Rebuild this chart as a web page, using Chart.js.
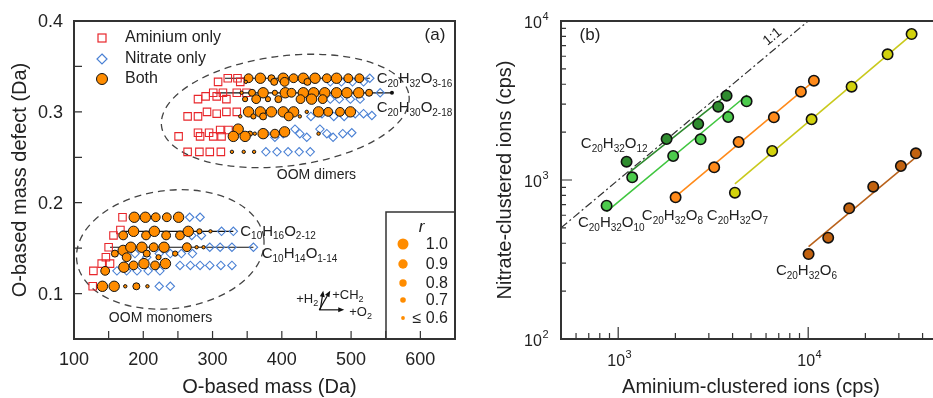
<!DOCTYPE html>
<html lang="en">
<head>
  <meta charset="UTF-8">
  <title>OOM mass defect / clustered ions</title>
  <script src="https://cdn.jsdelivr.net/npm/chart.js"></script>
  <style>
    html, body { margin: 0; padding: 0; background: #fff; overflow: hidden; }
    #wrap { position: relative; width: 933px; height: 398px; overflow: hidden; }
    canvas { position: absolute; top: 0; }
    #chartA { left: 0; }
    #chartB { left: 470px; }
  </style>
</head>
<body>
<div id="wrap">
  <canvas id="chartA" width="470" height="398"></canvas>
  <canvas id="chartB" width="480" height="398"></canvas>
</div>
<script>
// ---------- panel (a): O-based mass defect plot ----------
const aminiumMass   = [308, 322, 336, 340,  301, 315, 335, 349,  279, 290, 306, 320,  264, 279, 292, 306, 320, 335,
                       279, 295, 311, 323,  251, 282, 301, 313,  264, 281, 296, 312,
                       170, 167, 157, 150, 146, 152, 140, 128, 127];
const aminiumDefect = [0.333, 0.337, 0.337, 0.333,  0.321, 0.321, 0.321, 0.321,  0.314, 0.317, 0.317, 0.314,
                       0.295, 0.295, 0.300, 0.298, 0.300, 0.300,  0.277, 0.277, 0.280, 0.280,
                       0.273, 0.273, 0.273, 0.273,  0.256, 0.256, 0.256, 0.256,
                       0.184, 0.170, 0.164, 0.151, 0.140, 0.133, 0.133, 0.125, 0.108];

const nitrateMass   = [527,  470, 486, 502, 518,  542,  470, 483, 499, 513,
                       442, 458, 475, 490, 506, 518, 530,
                       377, 390, 402, 419, 426, 436, 455, 465, 474, 488, 501,
                       377, 393, 409, 425, 441,
                       267, 282,  270, 284, 313, 330,
                       188, 205, 223, 239, 255, 271, 296, 311, 328, 359,
                       162, 176, 191, 207, 224, 253, 268, 282, 296, 312, 328,
                       223, 239];
const nitrateDefect = [0.337,  0.333, 0.333, 0.333, 0.333,  0.321,  0.314, 0.314, 0.314, 0.314,
                       0.295, 0.298, 0.295, 0.295, 0.298, 0.298, 0.296,
                       0.276, 0.272, 0.276, 0.281, 0.276, 0.272, 0.281, 0.276, 0.272, 0.276, 0.277,
                       0.256, 0.256, 0.256, 0.256, 0.256,
                       0.184, 0.184,  0.164, 0.164, 0.1685, 0.1685,
                       0.144, 0.140, 0.144, 0.144, 0.144, 0.144, 0.151, 0.151, 0.151, 0.151,
                       0.125, 0.125, 0.125, 0.125, 0.125, 0.131, 0.131, 0.131, 0.131, 0.131, 0.131,
                       0.108, 0.108];

const bothMass   = [352, 369, 385, 402, 417, 431, 448, 465, 479, 496, 512,
                    348, 389, 404, 437,
                    342, 357, 373, 390, 405, 414, 431, 446, 462, 479, 494, 511, 526,
                    347, 363, 380, 395, 427, 443, 459,
                    352, 369, 385, 402, 417, 436, 453, 467, 484, 499,
                    340, 359, 373, 410, 426,
                    337, 354, 373, 390, 404, 453, 330, 347, 361,
                    328, 345, 360,
                    187, 203, 218, 234, 251,
                    171, 186, 204, 216, 233, 253, 265, 281, 297,
                    159, 171, 182, 198, 215, 230, 246, 263, 277, 287,
                    176, 205, 222,
                    145, 172, 186, 201, 217, 232,
                    141, 158, 174, 190, 206];
const bothDefect = [0.337, 0.337, 0.337, 0.337, 0.337, 0.337, 0.337, 0.337, 0.337, 0.337, 0.337,
                    0.333, 0.333, 0.333, 0.333,
                    0.321, 0.321, 0.321, 0.321, 0.321, 0.321, 0.321, 0.321, 0.321, 0.321, 0.321, 0.321, 0.321,
                    0.314, 0.314, 0.314, 0.314, 0.314, 0.314, 0.314,
                    0.300, 0.300, 0.300, 0.300, 0.300, 0.300, 0.300, 0.300, 0.300, 0.300,
                    0.295, 0.295, 0.295, 0.295, 0.295,
                    0.281, 0.276, 0.276, 0.276, 0.278, 0.276, 0.273, 0.273, 0.276,
                    0.256, 0.256, 0.256,
                    0.184, 0.184, 0.184, 0.184, 0.184,
                    0.164, 0.1685, 0.164, 0.1685, 0.164, 0.164, 0.1685, 0.1685, 0.1685,
                    0.144, 0.1475, 0.151, 0.151, 0.151, 0.151, 0.144, 0.151, 0.151, 0.151,
                    0.140, 0.144, 0.140,
                    0.125, 0.129, 0.131, 0.133, 0.131, 0.133,
                    0.108, 0.108, 0.108, 0.108, 0.108];
const bothR      = [0.9, 1.0, 0.8, 1.0, 0.9, 1.0, 1.0, 0.9, 1.0, 0.9, 0.9,
                    0.6, 0.8, 0.9, 0.8,
                    0.6, 0.8, 1.0, 0.7, 1.0, 0.9, 1.0, 1.0, 1.0, 1.0, 1.0, 1.0, 0.8,
                    0.7, 0.9, 0.7, 0.8, 0.9, 1.0, 0.9,
                    1.0, 1.0, 1.0, 1.0, 1.0, 0.6, 1.0, 0.9, 0.9, 1.0,
                    0.6, 0.7, 0.8, 0.9, 0.6,
                    1.0, 0.7, 1.0, 0.9, 1.0, 0.6, 1.0, 1.0, 0.6,
                    0.6, 0.6, 0.6,
                    1.0, 1.0, 0.9, 0.9, 1.0,
                    0.9, 1.0, 0.9, 1.0, 0.9, 0.9, 1.0, 0.7, 0.6,
                    0.8, 1.0, 1.0, 1.0, 0.9, 1.0, 0.7, 0.9, 0.6, 0.6,
                    0.9, 0.8, 0.7,
                    0.9, 1.0, 0.9, 1.0, 0.9, 1.0,
                    1.0, 1.0, 0.6, 0.8, 0.6];

// homologous series lines: [start mass, end mass], defect
const seriesNames  = ['C20H32O3-16', 'C20H30O2-18', 'C10H16O2-12', 'C10H14O1-14'];
const seriesStart  = [318, 304, 169, 152];
const seriesEnd    = [527, 559, 330, 359];
const seriesDefect = [0.337, 0.321, 0.1685, 0.151];

const xTicksA = [100, 200, 300, 400, 500, 600];
const yTicksA = [0.1, 0.2, 0.3, 0.4];
const rLegend = ['1.0', '0.9', '0.8', '0.7', '≤ 0.6'];

// ---------- panel (b): nitrate vs aminium clustered ions ----------
const ionNames = ['C20H32O12', 'C20H32O10', 'C20H32O8', 'C20H32O7', 'C20H32O6'];
const aminiumIons = [
  [1107, 1798, 2637, 3360, 3720],
  [869, 1185, 1947, 2715, 3793, 4741],
  [2005, 3201, 4303, 6598, 9153, 10715],
  [4114, 6463, 10421, 16922, 26173, 35010],
  [10048, 12743, 16435, 21989, 30745, 36878]
];
const nitrateIons = [
  [1304, 1811, 2250, 2891, 3390],
  [689, 1040, 1416, 1803, 2490, 3126],
  [778, 1202, 1734, 2480, 3593, 4212],
  [832, 1522, 2409, 3863, 6174, 8282],
  [342, 434, 664, 908, 1225, 1472]
];
const fitAminium = [[1129, 3720], [869, 4775], [2005, 10624], [4114, 35690], [10048, 37200]];
const fitNitrate = [[1102, 3424], [632, 3424], [785, 4151], [944, 8367], [381, 1401]];
const oneToOne = [500, 10000];
const ionFill = ['#2f8c2f', '#4ccb4c', '#ff8a1a', '#d2d20c', '#c2620f'];
const ionLine = ['#2e8a2e', '#3fc63f', '#ff8a1a', '#c9c91c', '#b9621b'];

const FONT = '"Liberation Sans", Arial, Helvetica, sans-serif';
const INK = '#222';

function rSize(r) {
  if (r >= 1.0) return 5.2;
  if (r >= 0.9) return 4.4;
  if (r >= 0.8) return 3.5;
  if (r >= 0.7) return 2.6;
  return 1.7;
}

// "C20H32O3-16" -> normal / subscript pieces
function parseFormula(s) {
  const parts = [];
  const re = /([^0-9\-]+)|([0-9\-]+)/g;
  let m;
  while ((m = re.exec(s))) parts.push([m[0], !!m[2]]);
  return parts;
}

function drawFormula(ctx, s, x, yMid, size, align) {
  const subSize = Math.round(size * 0.68);
  const parts = parseFormula(s);
  let w = 0;
  for (const [t, sub] of parts) {
    ctx.font = (sub ? subSize : size) + 'px ' + FONT;
    w += ctx.measureText(t).width;
  }
  let cx = align === 'center' ? x - w / 2 : align === 'right' ? x - w : x;
  const base = yMid + size * 0.36;
  ctx.textAlign = 'left';
  ctx.textBaseline = 'alphabetic';
  for (const [t, sub] of parts) {
    ctx.font = (sub ? subSize : size) + 'px ' + FONT;
    ctx.fillText(t, cx, sub ? base + size * 0.25 : base);
    cx += ctx.measureText(t).width;
  }
}

function drawPow(ctx, exp, x, yMid, align) {
  ctx.font = '16px ' + FONT;
  const wb = ctx.measureText('10').width;
  ctx.font = '11px ' + FONT;
  const we = ctx.measureText(String(exp)).width;
  const w = wb + we;
  const left = align === 'right' ? x - w : x - w / 2;
  ctx.textAlign = 'left';
  ctx.textBaseline = 'middle';
  ctx.font = '16px ' + FONT;
  ctx.fillText('10', left, yMid);
  ctx.font = '11px ' + FONT;
  ctx.fillText(String(exp), left + wb + 0.5, yMid - 7);
}

function text(ctx, s, x, y, size, align, style) {
  ctx.font = (style ? style + ' ' : '') + size + 'px ' + FONT;
  ctx.textAlign = align || 'left';
  ctx.textBaseline = 'middle';
  ctx.fillText(s, x, y);
}

function arrow(ctx, x0, y0, x1, y1) {
  const a = Math.atan2(y1 - y0, x1 - x0);
  ctx.beginPath();
  ctx.moveTo(x0, y0);
  ctx.lineTo(x1 - 4 * Math.cos(a), y1 - 4 * Math.sin(a));
  ctx.stroke();
  ctx.beginPath();
  ctx.moveTo(x1, y1);
  ctx.lineTo(x1 - 6 * Math.cos(a) + 2.5 * Math.sin(a), y1 - 6 * Math.sin(a) - 2.5 * Math.cos(a));
  ctx.lineTo(x1 - 6 * Math.cos(a) - 2.5 * Math.sin(a), y1 - 6 * Math.sin(a) + 2.5 * Math.cos(a));
  ctx.closePath();
  ctx.fill();
}

const toXY = (xs, ys) => xs.map((x, i) => ({ x: x, y: ys[i] }));

// ---------------- chart (a) ----------------
const decoA = {
  id: 'decoA',
  beforeDatasetsDraw(chart) {
    const ctx = chart.ctx, sx = chart.scales.x, sy = chart.scales.y;
    ctx.save();
    ctx.strokeStyle = '#444';
    ctx.lineWidth = 1.3;
    ctx.setLineDash([7, 5]);
    const ell = [[405, 0.301, 180, 0.0606], [239, 0.1486, 136, 0.065]];
    for (const [cm, cd, rm, rd] of ell) {
      const cx = sx.getPixelForValue(cm), cy = sy.getPixelForValue(cd);
      const rx = sx.getPixelForValue(cm + rm) - cx;
      const ry = cy - sy.getPixelForValue(cd + rd);
      ctx.beginPath();
      ctx.ellipse(cx, cy, rx, ry, -7 * Math.PI / 180, 0, 2 * Math.PI);
      ctx.stroke();
    }
    ctx.restore();
  },
  afterDraw(chart) {
    const ctx = chart.ctx, a = chart.chartArea, sx = chart.scales.x, sy = chart.scales.y;
    ctx.save();
    ctx.fillStyle = INK;
    ctx.strokeStyle = '#333';
    // ticks (inward)
    ctx.lineWidth = 1.2;
    ctx.beginPath();
    for (let v = 150; v <= 600; v += 50) {
      const x = sx.getPixelForValue(v);
      ctx.moveTo(x, a.bottom); ctx.lineTo(x, a.bottom - 8);
    }
    for (let k = 2; k <= 7; k++) {
      const y = sy.getPixelForValue(k * 0.05);
      ctx.moveTo(a.left, y); ctx.lineTo(a.left + 8, y);
    }
    ctx.stroke();
    // frame
    ctx.lineWidth = 2;
    ctx.strokeRect(a.left, a.top, a.right - a.left, a.bottom - a.top);
    // tick labels
    xTicksA.forEach(v => text(ctx, String(v), sx.getPixelForValue(v), 360, 18, 'center'));
    yTicksA.forEach(v => text(ctx, v.toFixed(1), 63, sy.getPixelForValue(v) + 1, 18, 'right'));
    // axis titles
    text(ctx, 'O-based mass (Da)', (a.left + a.right) / 2 + 5, 387, 20, 'center');
    ctx.save();
    ctx.translate(20, 180);
    ctx.rotate(-Math.PI / 2);
    text(ctx, 'O-based mass defect (Da)', 0, 0, 20, 'center');
    ctx.restore();
    // panel letter
    text(ctx, '(a)', 435, 35, 17, 'center');
    // symbol legend
    ctx.lineWidth = 1.2;
    ctx.strokeStyle = '#e8262b';
    ctx.strokeRect(98, 34, 8, 8);
    ctx.strokeStyle = '#4a80d4';
    ctx.beginPath();
    ctx.moveTo(102, 54); ctx.lineTo(107, 59); ctx.lineTo(102, 64); ctx.lineTo(97, 59); ctx.closePath();
    ctx.stroke();
    ctx.fillStyle = '#ff8c00';
    ctx.strokeStyle = '#111';
    ctx.lineWidth = 1;
    ctx.beginPath(); ctx.arc(102, 79, 5.5, 0, 2 * Math.PI); ctx.fill(); ctx.stroke();
    ctx.fillStyle = INK;
    text(ctx, 'Aminium only', 125, 38, 16);
    text(ctx, 'Nitrate only', 125, 59, 16);
    text(ctx, 'Both', 125, 79, 16);
    // r legend box
    ctx.strokeStyle = '#333';
    ctx.lineWidth = 1.5;
    ctx.beginPath();
    ctx.moveTo(386, a.bottom); ctx.lineTo(386, 212); ctx.lineTo(a.right, 212);
    ctx.stroke();
    text(ctx, 'r', 421.5, 227, 17, 'center', 'italic');
    const rr = [5.5, 4.7, 3.7, 2.8, 1.9];
    const ry = [244, 264, 283, 300, 318];
    rLegend.forEach((s, i) => {
      ctx.fillStyle = '#ff8c00';
      ctx.beginPath(); ctx.arc(403, ry[i], rr[i], 0, 2 * Math.PI); ctx.fill();
      ctx.fillStyle = INK;
      text(ctx, s, 448, ry[i] + 1, 16, 'right');
    });
    // series labels
    const lab = [[537, 0.3372], [537, 0.3055], [340, 0.1696], [371, 0.1453]];
    seriesNames.forEach((s, i) => drawFormula(ctx, s, sx.getPixelForValue(lab[i][0]), sy.getPixelForValue(lab[i][1]), 15, 'left'));
    text(ctx, 'OOM dimers', sx.getPixelForValue(450), sy.getPixelForValue(0.2302), 14, 'center');
    text(ctx, 'OOM monomers', sx.getPixelForValue(225), sy.getPixelForValue(0.0725), 14, 'center');
    // direction arrows
    const ox = sx.getPixelForValue(454), oy = sy.getPixelForValue(0.0821);
    ctx.strokeStyle = '#111';
    ctx.fillStyle = '#111';
    ctx.lineWidth = 1.2;
    arrow(ctx, ox, oy, ox + 25, oy);
    arrow(ctx, ox, oy, ox + 11, oy - 19);
    arrow(ctx, ox + 1, oy, ox + 4, oy - 19);
    ctx.fillStyle = INK;
    drawFormula(ctx, '+H2', ox - 1, oy - 12, 13, 'right');
    drawFormula(ctx, '+CH2', ox + 13, oy - 16, 13, 'left');
    drawFormula(ctx, '+O2', ox + 30, oy + 1, 13, 'left');
    ctx.restore();
  }
};

const datasetsA = [
  {
    label: 'Both',
    data: toXY(bothMass, bothDefect),
    pointStyle: 'circle',
    pointRadius: c => rSize(bothR[c.dataIndex]),
    pointBackgroundColor: '#ff8c00',
    pointBorderColor: '#111',
    pointBorderWidth: 1
  },
  {
    label: 'Nitrate only',
    data: toXY(nitrateMass, nitrateDefect),
    pointStyle: 'rectRot',
    pointRadius: 4.2,
    pointBackgroundColor: 'rgba(0,0,0,0)',
    pointBorderColor: '#4a80d4',
    pointBorderWidth: 1.1
  },
  {
    label: 'Aminium only',
    data: toXY(aminiumMass, aminiumDefect),
    pointStyle: 'rect',
    pointRadius: 5.3,
    pointBackgroundColor: 'rgba(0,0,0,0)',
    pointBorderColor: '#e8262b',
    pointBorderWidth: 1.1
  }
];
seriesNames.forEach((n, i) => {
  datasetsA.push({
    label: n,
    data: [{ x: seriesStart[i], y: seriesDefect[i] }, { x: seriesEnd[i], y: seriesDefect[i] }],
    showLine: true,
    borderColor: '#111',
    borderWidth: 1.2,
    pointRadius: i === 1 ? [0, 2] : 0,
    pointBackgroundColor: '#111',
    pointBorderWidth: 0
  });
});

new Chart(document.getElementById('chartA'), {
  type: 'scatter',
  data: { datasets: datasetsA },
  options: {
    responsive: false,
    animation: false,
    devicePixelRatio: 1,
    layout: { padding: { left: 0, right: 15, top: 21, bottom: 0 } },
    plugins: { legend: { display: false }, tooltip: { enabled: false } },
    scales: {
      x: {
        type: 'linear', min: 100, max: 650,
        grid: { display: false }, border: { display: false }, ticks: { display: false },
        afterFit: s => { s.height = 59; }
      },
      y: {
        type: 'linear', min: 0.05, max: 0.4,
        grid: { display: false }, border: { display: false }, ticks: { display: false },
        afterFit: s => { s.width = 74; }
      }
    }
  },
  plugins: [decoA]
});

// ---------------- chart (b) ----------------
const decoB = {
  id: 'decoB',
  afterDraw(chart) {
    const ctx = chart.ctx, a = chart.chartArea, sx = chart.scales.x, sy = chart.scales.y;
    ctx.save();
    ctx.strokeStyle = '#333';
    ctx.fillStyle = INK;
    ctx.lineWidth = 1.2;
    ctx.beginPath();
    for (let d = 2; d <= 4; d++) {
      for (let k = 1; k <= 9; k++) {
        const v = k * Math.pow(10, d);
        const len = k === 1 ? 12 : 6;
        if (v > 500 && v < 50000) {
          const x = sx.getPixelForValue(v);
          ctx.moveTo(x, a.bottom); ctx.lineTo(x, a.bottom - len);
        }
        if (v > 100 && v < 10000) {
          const y = sy.getPixelForValue(v);
          ctx.moveTo(a.left, y); ctx.lineTo(a.left + len - 1, y);
        }
      }
    }
    ctx.stroke();
    ctx.lineWidth = 2;
    ctx.strokeRect(a.left, a.top, a.right - a.left, a.bottom - a.top);
    // tick labels
    [2, 3, 4].forEach(e => drawPow(ctx, e, 78, sy.getPixelForValue(Math.pow(10, e)) + 3, 'right'));
    [3, 4].forEach(e => drawPow(ctx, e, sx.getPixelForValue(Math.pow(10, e)) + 1, 362, 'center'));
    // axis titles
    text(ctx, 'Aminium-clustered ions (cps)', 281, 387, 20, 'center');
    ctx.save();
    ctx.translate(35, 180);
    ctx.rotate(-Math.PI / 2);
    text(ctx, 'Nitrate-clustered ions (cps)', 0, 0, 20, 'center');
    ctx.restore();
    text(ctx, '(b)', 120, 35, 17, 'center');
    // series labels
    const lab = [[636, 1709], [614, 544], [1332, 602], [2929, 602], [6761, 272]];
    ionNames.forEach((s, i) => drawFormula(ctx, s, sx.getPixelForValue(lab[i][0]), sy.getPixelForValue(lab[i][1]), 15, 'left'));
    // 1:1 label
    ctx.save();
    ctx.translate(sx.getPixelForValue(6494), sy.getPixelForValue(7966));
    ctx.rotate(-40 * Math.PI / 180);
    text(ctx, '1:1', 0, 0, 14, 'center');
    ctx.restore();
    ctx.restore();
  }
};

const datasetsB = [];
ionNames.forEach((n, i) => {
  datasetsB.push({
    label: n,
    data: toXY(aminiumIons[i], nitrateIons[i]),
    pointRadius: 5.2,
    pointBackgroundColor: ionFill[i],
    pointBorderColor: '#111',
    pointBorderWidth: 1.6
  });
});
ionNames.forEach((n, i) => {
  datasetsB.push({
    label: n + ' fit',
    data: toXY(fitAminium[i], fitNitrate[i]),
    showLine: true,
    borderColor: ionLine[i],
    borderWidth: 1.6,
    pointRadius: 0
  });
});
datasetsB.push({
  label: '1:1',
  data: toXY(oneToOne, oneToOne),
  showLine: true,
  borderColor: '#333',
  borderWidth: 1.2,
  borderDash: [8, 3, 2, 3],
  pointRadius: 0
});

new Chart(document.getElementById('chartB'), {
  type: 'scatter',
  data: { datasets: datasetsB },
  options: {
    responsive: false,
    animation: false,
    devicePixelRatio: 1,
    layout: { padding: { left: 0, right: 9, top: 21, bottom: 0 } },
    plugins: { legend: { display: false }, tooltip: { enabled: false } },
    scales: {
      x: {
        type: 'logarithmic', min: 500, max: 50000,
        grid: { display: false }, border: { display: false }, ticks: { display: false },
        afterFit: s => { s.height = 59; }
      },
      y: {
        type: 'logarithmic', min: 100, max: 10000,
        grid: { display: false }, border: { display: false }, ticks: { display: false },
        afterFit: s => { s.width = 91; }
      }
    }
  },
  plugins: [decoB]
});
</script>
</body>
</html>
